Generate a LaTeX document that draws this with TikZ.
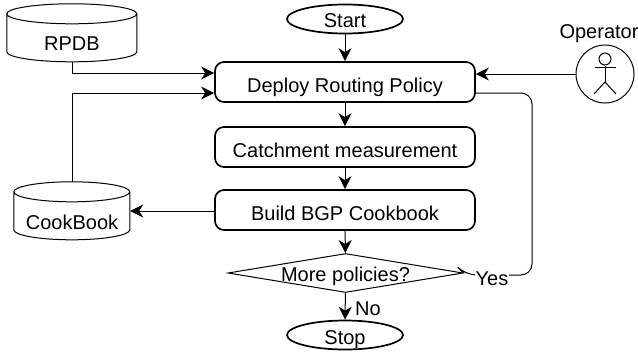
\documentclass[tikz,border=0pt]{standalone}
\usepackage{fontspec}
\setmainfont{Liberation Sans}
\usetikzlibrary{shapes.geometric,arrows.meta,calc}
\tikzset{
  every node/.style={font=\fontsize{20}{24}\selectfont,inner sep=0pt,text=black},
  baseoff/.style={text height=2*#1,text depth=0pt},
  procbox/.style={draw,line width=1.7pt,rounded corners=9pt,minimum width=260pt,minimum height=40pt,baseoff=10pt},
  terminal/.style={draw,ellipse,line width=1.7pt,minimum width=116pt,minimum height=29pt},
  decision/.style={draw,diamond,line width=1pt,minimum width=235pt,minimum height=39pt},
  storeslot/.style={minimum width=#1,minimum height=58pt},
  cyl/.style={draw,line width=1pt,fill=white},
  conn/.style={line width=1pt,-{Stealth[length=13pt,width=13pt,inset=4pt]}},
  plainconn/.style={line width=1pt},
  tag/.style={anchor=base,fill=white,inner sep=1pt}
}
\newcommand{\cylinder}[1]{%
  \draw[cyl] (#1.north west) ++(0,10) -- ++(0,38)
    arc[start angle=180,end angle=0,x radius=0.5*\cylw,y radius=10]
    -- ++(0,-38)
    arc[start angle=0,end angle=-180,x radius=0.5*\cylw,y radius=10]
    arc[start angle=180,end angle=0,x radius=0.5*\cylw,y radius=10];}
\begin{document}
\begin{tikzpicture}[x=1pt,y=-1pt]
\useasboundingbox (0,0) rectangle (638,354);
\node[terminal,baseoff=8pt] (start) at (345,19) {Start};
\node[procbox] (deploy) at (345,82) {Deploy Routing Policy};
\node[procbox] (catch) at (345,147) {Catchment measurement};
\node[procbox] (build) at (345,210) {Build BGP Cookbook};
\node[decision,baseoff=8pt] (more) at (345.5,273) {\makebox[0pt]{More policies?}};
\node[terminal,baseoff=9pt] (stop) at (345,335) {Stop};
\node[storeslot=130pt] (rpdb) at (72,33) {};
\node[storeslot=116pt] (cook) at (72,211) {};
\def\cylw{130}\cylinder{rpdb}
\def\cylw{116}\cylinder{cook}
\node[anchor=base] (rpdbt) at (72,50) {RPDB};
\node[anchor=base] (cookt) at (72,229) {CookBook};
\node[anchor=base] (optext) at (599,38) {Operator};
\node[draw,circle,line width=1pt,minimum size=58pt] (op) at (605,74) {};
% actor
\node[draw,circle,line width=1pt,minimum size=12pt] (head) at (605,59) {};
\coordinate (hip) at (605,82);
\draw[line width=1pt] (head.south) -- (hip);
\draw[line width=1pt] ($(head.south)+(-10,2)$) -- ($(head.south)+(11,2)$);
\draw[line width=1pt] ($(hip)+(-11,12)$) -- (hip) -- ($(hip)+(11,12)$);
% connectors
\draw[conn] (start) -- (deploy);
\draw[conn] (deploy) -- (catch);
\draw[conn] (catch) -- (build);
\draw[conn] (build) -- (more);
\draw[conn] (more) -- (stop);
\node[anchor=base west] (no) at (355,315) {No};
\draw[conn] (rpdb.south) |- ($(deploy.west)+(0,-9)$);
\draw[conn] (cook.north) |- ($(deploy.west)+(0,11)$);
\draw[conn] (build.west |- cook.east) -- (cook.east);
\draw[conn] (op.west) -- (deploy.east |- op.west);
\coordinate (yesturn) at (532,275);
\draw[plainconn,rounded corners=11pt] (more.east) -- ++(2,2) -- (yesturn) -- (yesturn |- 0,93) -- ($(deploy.east)+(0,11)$);
\node[tag] (yes) at (492,285) {Yes};
\end{tikzpicture}
\end{document}
